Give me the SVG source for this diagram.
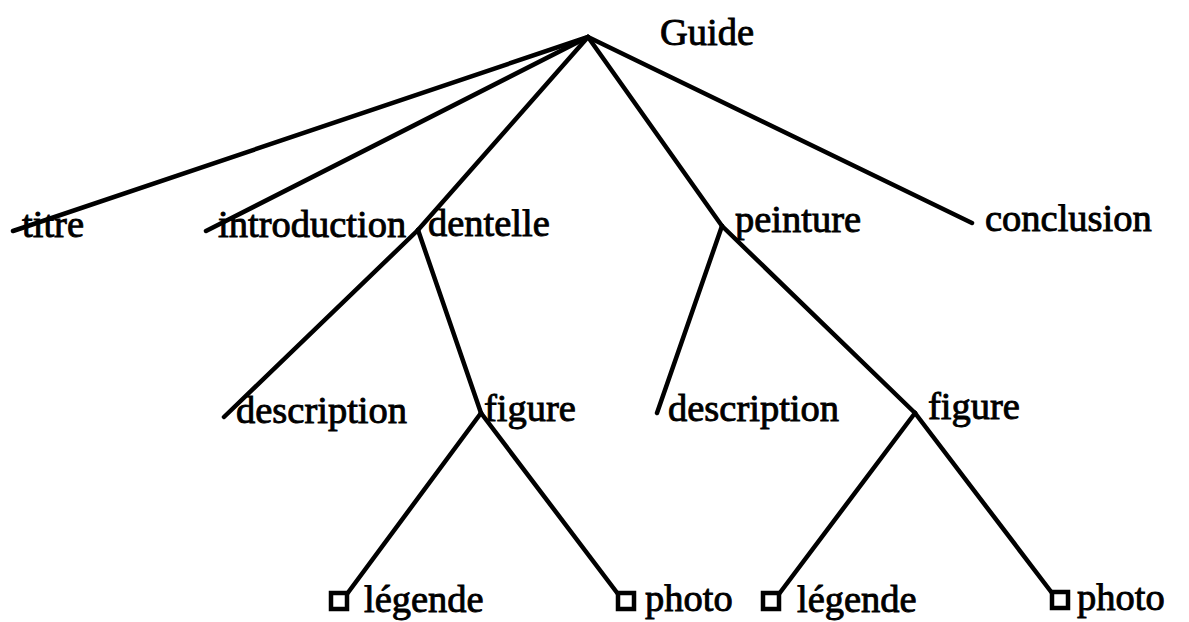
<svg xmlns="http://www.w3.org/2000/svg" width="1189" height="622" viewBox="0 0 1189 622">
<style>
.e{stroke:#000;stroke-width:4.5;fill:none;stroke-linecap:round;stroke-linejoin:round}
text{font-family:"Liberation Serif","Times New Roman",serif;font-size:38.5px;fill:#000;stroke:#000;stroke-width:0.9}
.box{fill:#fff;stroke:#000;stroke-width:4.5}
</style>
<rect width="1189" height="622" fill="#fff"/>
<g id="connectors" class="e">
<line x1="588" y1="37" x2="13" y2="231"/>
<line x1="588" y1="37" x2="206" y2="231"/>
<line x1="588" y1="37" x2="418" y2="230"/>
<line x1="588" y1="37" x2="722" y2="226"/>
<line x1="588" y1="37" x2="972" y2="223"/>
<line x1="418" y1="230" x2="224" y2="417"/>
<line x1="418" y1="230" x2="481" y2="413"/>
<line x1="722" y1="226" x2="657" y2="413"/>
<line x1="722" y1="226" x2="915" y2="413"/>
<line x1="481" y1="413" x2="347" y2="594"/>
<line x1="481" y1="413" x2="618" y2="594"/>
<line x1="915" y1="413" x2="779" y2="594"/>
<line x1="915" y1="413" x2="1052" y2="593"/>
</g>
<g id="guide"><text x="660" y="45">Guide</text></g>
<g id="titre"><text x="22" y="237">titre</text></g>
<g id="introduction"><text x="218" y="237">introduction</text></g>
<g id="dentelle"><text x="428" y="236">dentelle</text></g>
<g id="peinture"><text x="735" y="232">peinture</text></g>
<g id="conclusion"><text x="985" y="231">conclusion</text></g>
<g id="description1"><text x="236" y="423">description</text></g>
<g id="figure1"><text x="484" y="421">figure</text></g>
<g id="description2"><text x="668" y="421">description</text></g>
<g id="figure2"><text x="928" y="419">figure</text></g>
<g id="legende1"><rect class="box" x="331" y="593" width="16" height="16"/><text x="364" y="612">légende</text></g>
<g id="photo1"><rect class="box" x="618" y="593" width="16" height="16"/><text x="645" y="611">photo</text></g>
<g id="legende2"><rect class="box" x="763" y="593" width="16" height="16"/><text x="797" y="612">légende</text></g>
<g id="photo2"><rect class="box" x="1052" y="592" width="16" height="16"/><text x="1077" y="610">photo</text></g>
</svg>
